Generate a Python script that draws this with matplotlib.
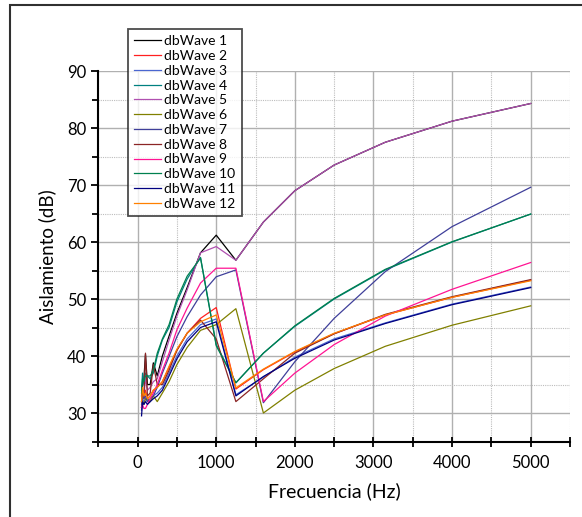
import matplotlib
matplotlib.use("Agg")
from matplotlib import pyplot as plt
from matplotlib.patches import Rectangle
from matplotlib.ticker import MultipleLocator

plt.rcParams['font.family'] = ['Lato', 'DejaVu Sans']

freqs = [50, 63, 80, 100, 125, 160, 200, 250, 315, 400, 500, 630, 800,
         1000, 1250, 1600, 2000, 2500, 3150, 4000, 5000]

top_curve = [63.5, 69, 73.5, 77.5, 81.2, 84.3]

db1 = [33, 35, 36, 40.3, 35, 35, 38.8, 36.5, 40, 43.5, 47.5, 52, 58.1, 61.2, 56.8] + top_curve
db2 = [31.5, 33.5, 32.5, 34, 32.5, 33, 34, 34.5, 35.5, 38, 41, 44, 46.6, 48.5, 34.2, 37.6, 40.7, 43.9, 47.2, 50.3, 53.3]
db3 = [31, 32.5, 32, 32.5, 32, 32, 33, 33.5, 34.5, 37, 40, 43, 45.5, 46.5, 33.2, 36.3, 39.8, 43, 45.8, 49.1, 52.1]
db4 = [34, 37, 35, 37, 36.5, 36, 37, 40, 42.8, 45, 49.5, 53.5, 57.3, 42, 35.3, 40.5, 45.2, 50, 55.1, 60, 64.9]
db5 = [32, 34, 33, 36, 34, 34.5, 35.5, 36, 39, 42.8, 47, 51.6, 58.1, 59.2, 56.8] + top_curve
db6 = [31, 32, 31.5, 32.5, 32.5, 32, 33, 32, 33.5, 35.5, 38.5, 41.5, 44.5, 45.5, 48.3, 30, 34, 37.8, 41.7, 45.4, 48.8]
db7 = [30.5, 33, 32.5, 33, 32, 32.5, 33, 34.5, 37, 39.9, 43.4, 46.9, 50.7, 53.9, 55.1, 31.8, 39, 46.6, 54.8, 62.7, 69.6]
db8 = [32, 34, 33, 40.5, 33, 33.5, 38.5, 35, 35, 37.5, 41, 44, 46.3, 43, 32, 36, 40.5, 43.9, 47.3, 50.4, 53.4]
db9 = [31, 31.5, 30.8, 30.8, 31.5, 32.5, 33.5, 35, 37.5, 40.5, 44.6, 48.4, 52.8, 55.4, 55.4, 32, 37, 42, 47, 51.7, 56.4]
db10 = [33.5, 36, 35.5, 36.5, 36.5, 36.5, 37.5, 40.5, 43, 45.5, 50, 54, 57.2, 41.8, 35.3, 40.5, 45.3, 50.1, 55.2, 60.05, 64.9]
db11 = [29.5, 32, 31.5, 32, 31.5, 32, 32.5, 33, 34, 36.5, 39.5, 42.5, 45, 46, 33, 36.4, 39.6, 42.8, 45.7, 49, 52]
db12 = [32, 34.5, 33, 33.5, 32.5, 33, 34, 34.5, 35.5, 38.2, 41.2, 44, 46, 47.2, 34.4, 37.7, 40.8, 44, 47.2, 50.3, 53.2]

series = [db1, db2, db3, db4, db5, db6, db7, db8, db9, db10, db11, db12]
names = ["dbWave %d" % i for i in range(1, 13)]
colors = ["#000000", "#FF2020", "#4A66D0", "#008080", "#B050B0", "#808000",
          "#3F3F9A", "#8B2525", "#FF1493", "#00804F", "#000080", "#FF8000"]

fig = plt.figure(figsize=(5.82, 5.17), dpi=100)
ax = fig.add_axes([98.3 / 582, 1 - 441.5 / 517, (570 - 98.3) / 582, (441.5 - 71) / 517])

for ys, name, c in zip(series, names, colors):
    ax.plot(freqs, ys, color=c, lw=0.9, label=name)

ax.set_xlim(-500, 5500)
ax.set_ylim(25, 90)
ax.xaxis.set_major_locator(MultipleLocator(1000))
ax.xaxis.set_minor_locator(MultipleLocator(500))
ax.yaxis.set_major_locator(MultipleLocator(10))
ax.yaxis.set_minor_locator(MultipleLocator(5))

ax.grid(which='major', color='#B0B0B0', lw=1.0, ls='-')
ax.grid(which='minor', color='#BDBDBD', lw=0.8, ls=(0, (1, 1)))
ax.set_axisbelow(True)

for s in ['top', 'right']:
    ax.spines[s].set_visible(False)
for s in ['left', 'bottom']:
    ax.spines[s].set_linewidth(1.5)

ax.tick_params(axis='x', which='major', direction='inout', length=7, width=1.3, labelsize=12, pad=6)
ax.tick_params(axis='x', which='minor', direction='inout', length=7, width=1.3)
ax.tick_params(axis='y', which='major', direction='out', length=5, width=1.3, labelsize=12)
ax.tick_params(axis='y', which='minor', direction='out', length=4, width=1.3)

ax.set_xlabel("Frecuencia (Hz)", fontsize=14, labelpad=8)
ax.set_ylabel("Aislamiento (dB)", fontsize=13.5, labelpad=8)

leg = fig.legend(loc='upper left', bbox_to_anchor=(128 / 582, 1 - 29 / 517),
                 fontsize=10, frameon=True, fancybox=False, handlelength=1.9,
                 handletextpad=0.25, labelspacing=0.2, borderpad=0.45,
                 borderaxespad=0)
leg.get_frame().set_edgecolor('#202020')
leg.get_frame().set_linewidth(1.3)

fig.patches.append(Rectangle((10 / 582, -0.1), 1.2, 0.1 + 1 - 5 / 517,
                             transform=fig.transFigure, fill=False,
                             edgecolor='#303030', lw=1.5))

fig.savefig('out.png', dpi=100)
